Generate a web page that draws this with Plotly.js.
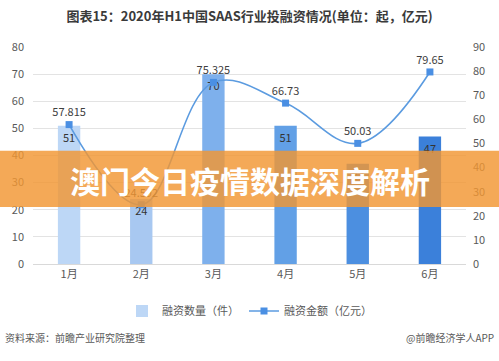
<!DOCTYPE html>
<html><head><meta charset="utf-8">
<script src="https://cdn.plot.ly/plotly-3.0.1.min.js"></script>
<style>html,body{margin:0;padding:0;background:#fff;}#chart{width:499px;height:361px;}</style>
</head><body><div id="chart"></div>
<script>
var months = ["1月","2月","3月","4月","5月","6月"];
var dealCount = [51, 24, 70, 51, 37, 47];
var dealAmount = [57.815, 24.592, 75.325, 66.73, 50.03, 79.65];
var amountLabels = ["57.815", "24.592", "75.325", "66.73", "50.03", "79.65"];
var barColors = ["#bdd7f6", "#a8c8f1", "#7eb0ec", "#62a0e6", "#4c8fe0", "#3b80da"];
var titleText = "图表15：2020年H1中国SAAS行业投融资情况(单位：起，亿元)";
var bannerText = "澳门今日疫情数据深度解析";
var sourceText = "资料来源：前瞻产业研究院整理";
var brandText = "@前瞻经济学人APP";

var font = "Noto Sans CJK SC, Microsoft YaHei, sans-serif";
var traces = [
  {type:"bar", x:months, y:dealCount, name:"融资数量（件）",
   marker:{color:barColors}, width:0.31,
   text:dealCount.map(String), textposition:"inside", insidetextanchor:"end",
   textfont:{size:11, color:"#333", family:font}, constraintext:"none",
   hoverinfo:"skip"},
  {type:"scatter", mode:"lines+markers+text", x:months, y:dealAmount, yaxis:"y2",
   name:"融资金额（亿元）", line:{color:"#5b9be0", width:1.6, shape:"spline", smoothing:1.1},
   marker:{symbol:"square", size:7, color:"#4a8fe3"},
   text:amountLabels, textposition:"top center",
   textfont:{size:11, color:"#404040", family:font}, cliponaxis:false}
];
var layout = {
  width:499, height:361, margin:{l:33, r:33, t:47, b:97},
  paper_bgcolor:"#fff", plot_bgcolor:"#fff",
  font:{family:font, color:"#595959", size:11},
  title:{text:"<b>"+titleText+"</b>", x:0.5, xanchor:"center", y:0.955, yanchor:"middle",
         font:{size:13, color:"#3a3a3a", family:font}},
  xaxis:{type:"category", showgrid:false, showline:true, linecolor:"#d9d9d9", ticks:"",
         tickfont:{size:11, color:"#595959"}},
  yaxis:{range:[0,80], dtick:10, gridcolor:"#e3e3e3", zeroline:false, showline:false,
         tickfont:{size:11, color:"#595959"}, ticklabelstandoff:8},
  yaxis2:{range:[0,90], dtick:10, overlaying:"y", side:"right", showgrid:false, zeroline:false,
          tickfont:{size:11, color:"#595959"}, ticklabelstandoff:6},
  showlegend:true,
  legend:{orientation:"h", x:0.5, xanchor:"center", y:-0.15, yanchor:"top",
          font:{size:11, color:"#595959"}, traceorder:"normal"},
  shapes:[{type:"rect", xref:"paper", yref:"paper", x0:-0.08, x1:1.08, y0:0.263, y1:0.522,
           fillcolor:"rgba(242,150,50,0.82)", line:{width:0}, layer:"above"}],
  annotations:[
    {text:"<b>"+bannerText+"</b>", xref:"paper", yref:"paper", x:0.5, y:0.385,
     showarrow:false, font:{size:30, color:"#ffffff", family:font}},
    {text:sourceText, xref:"paper", yref:"paper", x:-0.07, xanchor:"left", y:-0.34, yanchor:"middle",
     showarrow:false, font:{size:10, color:"#595959", family:font}},
    {text:brandText, xref:"paper", yref:"paper", x:1.07, xanchor:"right", y:-0.34, yanchor:"middle",
     showarrow:false, font:{size:10, color:"#595959", family:font}}
  ]
};
Plotly.newPlot("chart", traces, layout, {displayModeBar:false, staticPlot:true});
</script></body></html>
